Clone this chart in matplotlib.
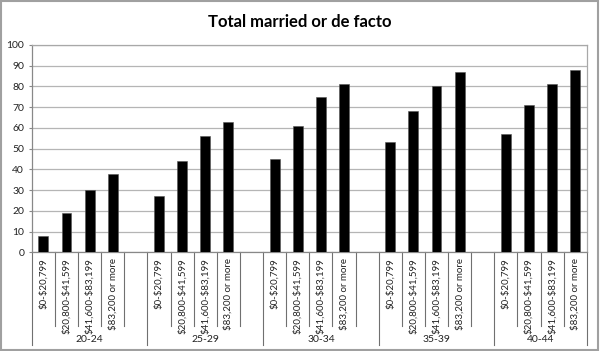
import matplotlib
matplotlib.use("Agg")
import matplotlib.pyplot as plt
import matplotlib.transforms as mtransforms
from matplotlib.patches import Rectangle

plt.rcParams['font.family'] = ['Lato', 'DejaVu Sans']
plt.rcParams['text.parse_math'] = False

title = "Total married or de facto"
age_groups = ["20-24", "25-29", "30-34", "35-39", "40-44"]
income_bands = ["$0-$20,799", "$20,800-$41,599", "$41,600-$83,199", "$83,200 or more"]
values = [
    [8, 19, 30, 38],
    [27, 44, 56, 63],
    [45, 61, 75, 81],
    [53, 68, 80, 87],
    [57, 71, 81, 88],
]
y_ticks = list(range(0, 101, 10))

fig = plt.figure(figsize=(6.0, 3.51), dpi=100)
ax = fig.add_axes([0.053, 0.2812, 0.925, 0.5906])

# slot layout: 4 bars + one blank slot per group (no blank after last)
slots_per_group = len(income_bands) + 1
n_slots = slots_per_group * len(age_groups) - 1
xs, hs = [], []
for g, row in enumerate(values):
    for i, v in enumerate(row):
        xs.append(g * slots_per_group + i)
        hs.append(v)

ax.bar(xs, hs, width=0.43, color='black', edgecolor='#555555', linewidth=0.4, zorder=3)
ax.set_xlim(-0.5, n_slots - 0.5)
ax.set_ylim(0, 100)
ax.set_yticks(y_ticks)
ax.set_yticklabels([str(t) for t in y_ticks], fontsize=7.5, color='#222222')
ax.tick_params(axis='y', length=2.5, width=0.8, color='#888888', pad=3)
ax.set_xticks([])
ax.grid(axis='y', color='#b5b5b5', linewidth=0.9, zorder=0)
for s in ax.spines.values():
    s.set_color('#a8a8a8')
    s.set_linewidth(0.9)
ax.spines['left'].set_color('#888888')
ax.spines['bottom'].set_color('#888888')

trans = mtransforms.blended_transform_factory(ax.transData, ax.transAxes)
inner_depth = -0.357
outer_depth = -0.449
# slot boundary lines
for b in range(n_slots + 1):
    x = b - 0.5
    is_group_edge = (b % slots_per_group == 0) or b == n_slots
    ax.plot([x, x], [0, outer_depth if is_group_edge else inner_depth], transform=trans,
            color='#707070', linewidth=0.8, clip_on=False)

# income labels
for g in range(len(age_groups)):
    for i, lab in enumerate(income_bands):
        ax.text(g * slots_per_group + i, -0.028, lab, transform=trans, rotation=90,
                ha='center', va='top', fontsize=7, color='#222222')
    start = g * slots_per_group - 0.5
    end = start + (slots_per_group if g < len(age_groups) - 1 else slots_per_group - 1)
    ax.text((start + end) / 2, -0.42, age_groups[g], transform=trans,
            ha='center', va='center', fontsize=7.5, color='#222222')

fig.text(0.5, 0.937, title, ha='center', va='center', fontsize=12, fontweight='bold')

fig.patches.append(Rectangle((0.002, 0.003), 0.994, 0.994, transform=fig.transFigure,
                             fill=False, edgecolor='#a0a0a0', linewidth=1.5))

fig.savefig("out.png", dpi=100)
